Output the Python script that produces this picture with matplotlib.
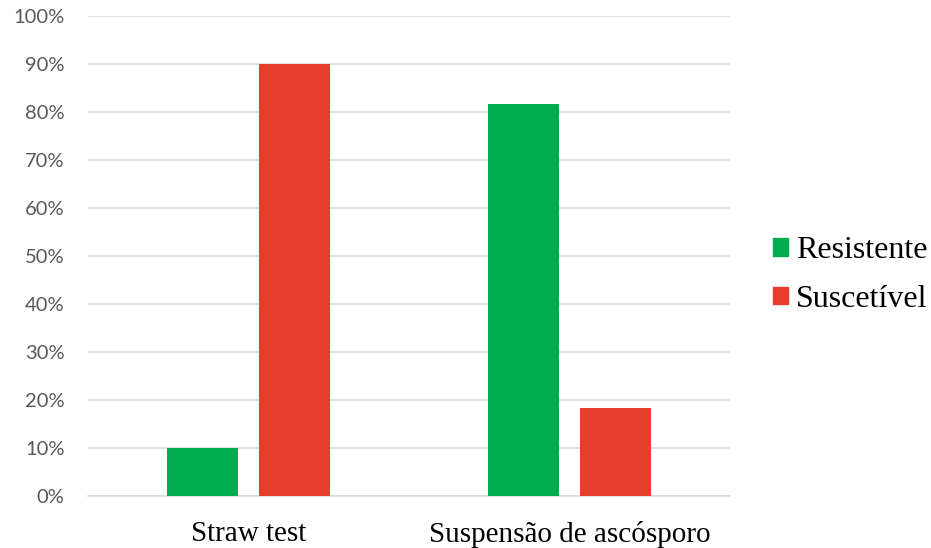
import numpy as np
import matplotlib.pyplot as plt
from matplotlib.patches import Patch

categories = ['Straw test', 'Suspensão de ascósporo']
resistente = [10.0, 81.7]
suscetivel = [90.0, 18.3]
series_names = ['Resistente', 'Suscetível']
colors = ['#00ac4e', '#e63d2d']

fig = plt.figure(figsize=(9.31, 5.48), dpi=100)
ax = fig.add_axes([88 / 931, 1 - 496 / 548, (730 - 88) / 931, (496 - 16) / 548])

x = np.arange(len(categories))
w = 0.221
off = 0.143
ax.bar(x - off, resistente, w, color=colors[0], zorder=3)
ax.bar(x + off, suscetivel, w, color=colors[1], zorder=3)

ax.set_xlim(-0.5, len(categories) - 0.5)
ax.set_ylim(0, 100)
ax.set_yticks(np.arange(0, 101, 10))
ax.set_yticklabels([f'{v}%' for v in range(0, 101, 10)], fontname='Lato', fontsize=14.5, color='#595959')
ax.set_xticks(x)
ax.set_xticklabels(categories, fontname='Liberation Serif', fontsize=21, color='black')
ax.tick_params(axis='y', length=0, pad=17)
ax.tick_params(axis='x', length=0, pad=18)
ax.grid(axis='y', color='#d9d9d9', linewidth=1.2, zorder=0)
for s in ['top', 'right', 'left']:
    ax.spines[s].set_visible(False)
ax.spines['bottom'].set_color('#d9d9d9')
ax.spines['bottom'].set_linewidth(1.2)

handles = [Patch(color=c) for c in colors]
fig.legend(handles, series_names, loc='center left', bbox_to_anchor=(744 / 931, 1 - 275 / 548),
           frameon=False, prop={'family': 'Liberation Serif', 'size': 23},
           handlelength=0.47, handleheight=0.47, handletextpad=0.25, labelspacing=0.62)

fig.savefig('out.png', dpi=100)
